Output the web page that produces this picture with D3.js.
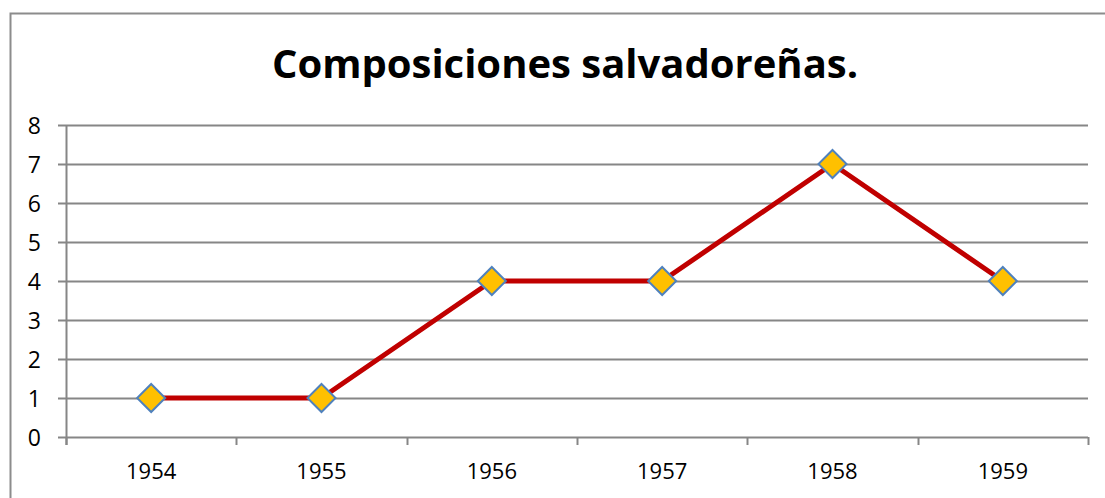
<!DOCTYPE html>
<html><head><meta charset="utf-8">
<script src="https://cdn.jsdelivr.net/npm/d3@7"></script>
<style>html,body{margin:0;padding:0;background:#fff;overflow:hidden}</style>
</head><body>
<svg id="c" width="1105" height="498"></svg>
<script>
const title = "Composiciones salvadoreñas.";
const categories = ["1954","1955","1956","1957","1958","1959"];
const values = [1,1,4,4,7,4];
const yTicks = [0,1,2,3,4,5,6,7,8];

const svg = d3.select("#c");
const L = 66, R = 1088, T = 125, B = 437;
svg.append("rect").attr("x",10.5).attr("y",13.5).attr("width",1120).attr("height",520)
  .attr("fill","#fff").attr("stroke","#8c8c8c").attr("stroke-width",2);

const x = d3.scaleBand().domain(categories).range([L,R]);
const y = d3.scaleLinear().domain([0,8]).range([B,T]);

svg.append("text").attr("x",565).attr("y",78).attr("text-anchor","middle")
  .attr("font-family","Open Sans, sans-serif").attr("font-weight","bold")
  .attr("font-size",40).attr("fill","#000").text(title);

// gridlines
svg.append("g").selectAll("line").data(yTicks).join("line")
  .attr("x1",L-8).attr("x2",R).attr("y1",d=>Math.round(y(d))+0.5).attr("y2",d=>Math.round(y(d))+0.5)
  .attr("stroke","#868686").attr("stroke-width",2);
svg.append("g").selectAll("text").data(yTicks).join("text")
  .attr("x",41).attr("y",d=>y(d)+8.5).attr("text-anchor","end")
  .attr("font-family","Open Sans, sans-serif").attr("font-size",23).attr("fill","#000").text(d=>d);

// y axis line
svg.append("line").attr("x1",L+0.5).attr("x2",L+0.5).attr("y1",T).attr("y2",B+8)
  .attr("stroke","#868686").attr("stroke-width",2);
// x ticks
const bounds = categories.map(c=>x(c)).concat([R]);
svg.append("g").selectAll("line").data(bounds).join("line")
  .attr("x1",d=>Math.round(d)+0.5).attr("x2",d=>Math.round(d)+0.5).attr("y1",B).attr("y2",B+8)
  .attr("stroke","#868686").attr("stroke-width",2);
svg.append("g").selectAll("text").data(categories).join("text")
  .attr("x",d=>x(d)+x.bandwidth()/2).attr("y",479).attr("text-anchor","middle")
  .attr("font-family","Open Sans, sans-serif").attr("font-size",22).attr("fill","#000").text(d=>d);

const line = d3.line().x((d,i)=>x(categories[i])+x.bandwidth()/2).y(d=>y(d));
svg.append("path").datum(values).attr("d",line).attr("fill","none")
  .attr("stroke","#C00000").attr("stroke-width",5).attr("stroke-linejoin","round");

const s = 14;
svg.append("g").selectAll("path").data(values).join("path")
  .attr("transform",(d,i)=>`translate(${x(categories[i])+x.bandwidth()/2},${y(d)})`)
  .attr("d",`M0,${-s}L${s},0L0,${s}L${-s},0Z`)
  .attr("fill","#FFC000").attr("stroke","#4F81BD").attr("stroke-width",2);
</script>
</body></html>
